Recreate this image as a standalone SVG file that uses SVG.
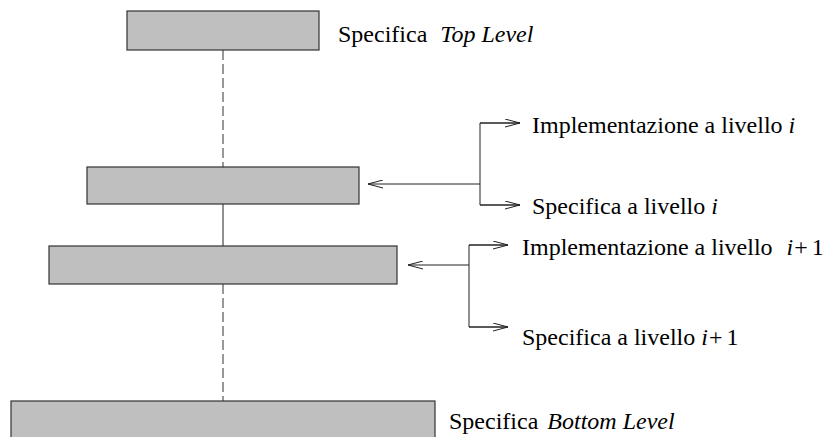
<svg xmlns="http://www.w3.org/2000/svg" width="829" height="437" viewBox="0 0 829 437">
<style>
.box{fill:#bfbfbf;stroke:#333;stroke-width:1.2}
.ln{stroke:#222;stroke-width:1;fill:none}
.dash{stroke:#333;stroke-width:1;stroke-dasharray:10 4;fill:none}
.arr{stroke:#222;stroke-width:1;fill:none;marker-end:url(#open)}
text{font-family:"Liberation Serif","Times New Roman",serif;font-size:24px;fill:#000}
.it{font-style:italic}
</style>
<defs>
<marker id="open" viewBox="0 0 15 9" refX="15" refY="4.5" markerWidth="15" markerHeight="9" markerUnits="userSpaceOnUse" orient="auto">
<path d="M0,0.5 L15,4.5 L0,8.5" fill="none" stroke="#222" stroke-width="1"/>
</marker>
</defs>
<g id="connectors">
<line class="dash" x1="223" y1="50" x2="223" y2="167"/>
<line class="ln" x1="223" y1="204" x2="223" y2="246"/>
<line class="dash" x1="223" y1="284" x2="223" y2="401"/>
<line class="arr" x1="480" y1="184" x2="368" y2="184"/>
<polyline class="ln" points="520,123 480,123 480,205 520,205" style="marker-end:none"/>
<line class="arr" x1="480" y1="123" x2="520" y2="123"/>
<line class="arr" x1="480" y1="205" x2="520" y2="205"/>
<line class="arr" x1="469" y1="265" x2="408" y2="265"/>
<polyline class="ln" points="508,245 469,245 469,327 508,327"/>
<line class="arr" x1="469" y1="245" x2="508" y2="245"/>
<line class="arr" x1="469" y1="327" x2="508" y2="327"/>
</g>
<g id="top">
<rect class="box" x="127" y="11" width="192" height="39"/>
<text x="338" y="42">Specifica <tspan class="it" dx="7">Top Level</tspan></text>
</g>
<g id="level-i">
<rect class="box" x="87" y="167" width="272" height="37"/>
</g>
<g id="level-i1">
<rect class="box" x="49" y="246" width="348" height="38"/>
</g>
<g id="bottom">
<rect class="box" x="11" y="401" width="424" height="40"/>
<text x="449" y="429">Specifica <tspan class="it" dx="3">Bottom Level</tspan></text>
</g>
<g id="impl-i">
<text x="532" y="133">Implementazione a livello <tspan class="it">i</tspan></text>
</g>
<g id="spec-i">
<text x="532" y="214">Specifica a livello <tspan class="it">i</tspan></text>
</g>
<g id="impl-i1">
<text x="522" y="255">Implementazione a livello <tspan class="it" dx="8">i</tspan><tspan dx="1">+</tspan><tspan dx="4">1</tspan></text>
</g>
<g id="spec-i1">
<text x="522" y="345">Specifica a livello <tspan class="it">i</tspan><tspan dx="1">+</tspan><tspan dx="4">1</tspan></text>
</g>
</svg>
